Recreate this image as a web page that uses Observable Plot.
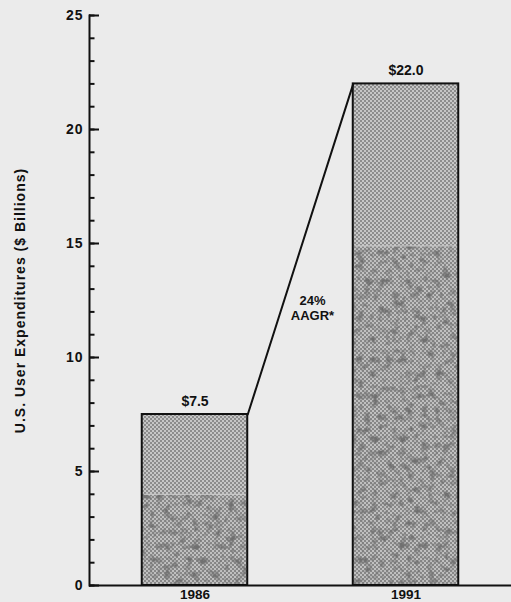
<!DOCTYPE html>
<html>
<head>
<meta charset="utf-8">
<script src="https://cdn.jsdelivr.net/npm/d3@7"></script>
<script src="https://cdn.jsdelivr.net/npm/@observablehq/plot@0.6"></script>
<style>
  html, body { margin: 0; padding: 0; background: #ebebeb; }
  #chart svg { display: block; }
</style>
</head>
<body>
<div id="chart"></div>
<script>
// U.S. user expenditures, $ billions
const years = [1986, 1991];
const spending = [7.5, 22.0];
// height of the darker, mottled lower band inside each bar
const lowerBand = [4.0, 14.9];
const valueLabels = ["$7.5", "$22.0"];
const yMajorTicks = [0, 5, 10, 15, 20, 25];
const yMinorTicks = d3.range(0, 26);
const yLabel = "U.S. User Expenditures ($ Billions)";

const halfWidth = 1.25; // bar half-width, in years
const bars = years.map((year, i) => ({
  year, value: spending[i], lower: lowerBand[i], label: valueLabels[i]
}));

// compound annual growth between the two years
const span = years[1] - years[0];
const aagr = Math.round((Math.pow(spending[1] / spending[0], 1 / span) - 1) * 100);
const growthLine = [
  {x: years[0] + halfWidth, y: spending[0]},
  {x: years[1] - halfWidth, y: spending[1]}
];

const font = "'Liberation Sans', Arial, Helvetica, sans-serif";

const plot = Plot.plot({
  width: 511,
  height: 602,
  marginLeft: 89,
  marginRight: 0,
  marginTop: 15,
  marginBottom: 17,
  style: {background: "#ebebeb", color: "#111", fontFamily: font, fontWeight: "bold", fontSize: "13.5px", overflow: "visible"},
  x: {domain: [years[0] - 2.5, years[1] + 2.5], axis: null},
  y: {domain: [0, 25], axis: null},
  marks: [
    // bar body with light stipple
    Plot.rectY(bars, {x1: d => d.year - halfWidth, x2: d => d.year + halfWidth, y1: 0, y2: "value", fill: "url(#stipple)"}),
    // darker mottled lower band
    Plot.rectY(bars, {x1: d => d.year - halfWidth, x2: d => d.year + halfWidth, y1: 0, y2: "lower", fill: "url(#stippleDark)", insetLeft: 1, insetRight: 1}),
    Plot.ruleY(bars, {x1: d => d.year - halfWidth, x2: d => d.year + halfWidth, y: "lower", stroke: "#d0d0d0", strokeWidth: 1.2, strokeOpacity: 0.8, insetLeft: 2, insetRight: 2}),
    // bar outlines
    Plot.rectY(bars, {x1: d => d.year - halfWidth, x2: d => d.year + halfWidth, y1: 0, y2: "value", fill: "none", stroke: "#111", strokeWidth: 2}),
    // growth connector between the bar tops
    Plot.line(growthLine, {x: "x", y: "y", stroke: "#111", strokeWidth: 2}),
    Plot.text([`${aagr}%\nAAGR*`], {x: (years[0] + years[1]) / 2, y: 12.2, dx: 12, text: d => d, fontSize: 13, lineHeight: 1.2}),
    // value labels
    Plot.text(bars, {x: "year", y: "value", text: "label", dy: -13, fontSize: 14, style: "letter-spacing:1.5px"}),
    // year labels
    Plot.text(bars, {x: "year", y: 0, text: d => String(d.year), dy: 9, fontSize: 13.5, style: "letter-spacing:1.5px"}),
    // axes
    Plot.axisY({ticks: yMinorTicks, tickSize: -5.5, fill: "none", label: null, strokeWidth: 2}),
    Plot.axisY({ticks: yMajorTicks, tickSize: -10, fill: "none", label: null, strokeWidth: 2}),
    Plot.axisY({ticks: yMajorTicks, tickSize: 0, tickPadding: 6, fontSize: 14, label: yLabel, labelAnchor: "center", labelArrow: "none", labelOffset: 74}),
    Plot.frame({anchor: "left", stroke: "#111", strokeWidth: 2}),
    Plot.ruleY([0], {stroke: "#111", strokeWidth: 2})
  ]
});

// stipple fills and mottle texture used by the bars
const defs = `
<defs>
  <pattern id="stipple" width="4" height="4" patternUnits="userSpaceOnUse">
    <rect width="4" height="4" fill="#c6c6c6"/>
    <rect width="2" height="2" fill="#8c8c8c"/>
    <rect x="2" y="2" width="2" height="2" fill="#8c8c8c"/>
  </pattern>
  <pattern id="stippleDark" width="4" height="4" patternUnits="userSpaceOnUse">
    <rect width="4" height="4" fill="#c0c0c0"/>
    <rect width="2" height="2" fill="#888888"/>
    <rect x="2" y="2" width="2" height="2" fill="#888888"/>
  </pattern>
  <filter id="mottle" x="0" y="0" width="100%" height="100%" color-interpolation-filters="sRGB">
    <feTurbulence type="fractalNoise" baseFrequency="0.14" numOctaves="3" seed="11" result="noise"/>
    <feColorMatrix in="noise" type="matrix"
      values="0 0 0 0 0.44  0 0 0 0 0.44  0 0 0 0 0.44  0 0 0 -3 1.58" result="blots"/>
    <feGaussianBlur in="blots" stdDeviation="0.6" result="soft"/>
    <feComposite in="soft" in2="SourceGraphic" operator="in" result="clipped"/>
    <feMerge><feMergeNode in="SourceGraphic"/><feMergeNode in="clipped"/></feMerge>
  </filter>
</defs>`;
plot.insertAdjacentHTML("afterbegin", defs);
// apply the mottled texture to the lower band
const groups = plot.querySelectorAll("g[aria-label='rect']");
if (groups[1]) groups[1].setAttribute("filter", "url(#mottle)");
// widen letter spacing on the axis text
plot.querySelectorAll("g[aria-label='y-axis tick label'] text, g[aria-label='y-axis label'] text").forEach(t => t.style.letterSpacing = "1px");

document.getElementById("chart").appendChild(plot);
</script>
</body>
</html>
